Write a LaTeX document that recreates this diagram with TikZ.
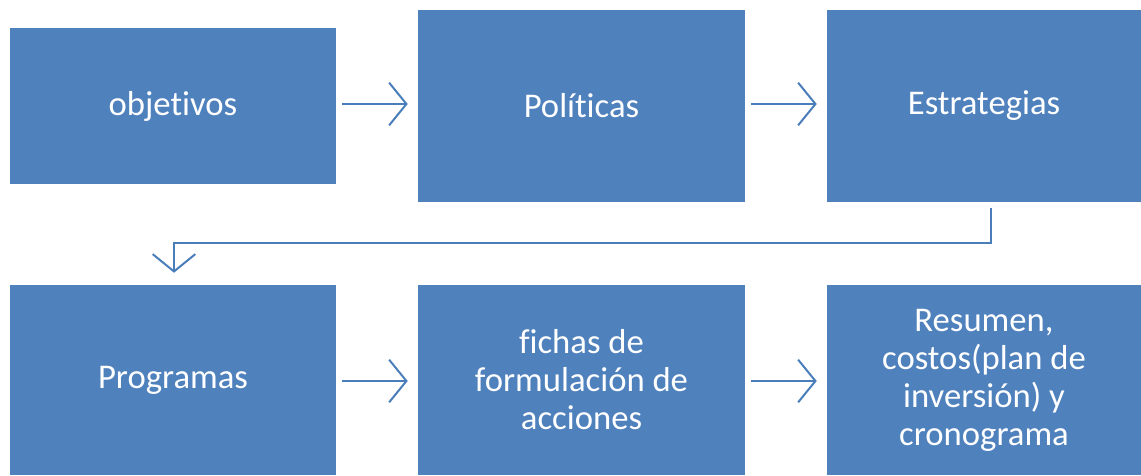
\documentclass[tikz,border=0pt]{standalone}
\usepackage{fontspec}
\setmainfont{Carlito}[Ligatures={NoCommon,NoContextual},RawFeature={-liga;-clig;-calt;-rlig;-dlig}]
\usetikzlibrary{arrows.meta}
\definecolor{cus-blue}{RGB}{79, 129, 189}
\definecolor{cus-line}{RGB}{74, 126, 187}
\newdimen\px
\px=0.75pt
\tikzset{
	box/.style={fill=cus-blue,text=white,align=center,inner sep=0pt,
		font=\fontsize{26}{28.5}\selectfont},
	arr/.style={draw=cus-line,line width=1.5pt,
		-{Straight Barb[length=13pt,width=32pt,line width=1.5pt]}}
}
\begin{document}
\begin{tikzpicture}[x=0.75pt,y=-0.75pt]
\useasboundingbox (0,0) rectangle (1141,475);
% top row
\node [box,minimum width=326\px,minimum height=156\px] (obj) at (173,106) {objetivos};
\node [box,minimum width=327\px,minimum height=192\px] (pol) at (581.5,106) {Políticas};
\node [box,minimum width=314\px,minimum height=192\px] (est) at (984,106) {Estrategias};
% bottom row
\node [box,minimum width=326\px,minimum height=190\px] (prog) at (173,380) {Programas};
\node [box,minimum width=327\px,minimum height=190\px] (fich) at (581.5,380) {fichas de\\formulación de\\acciones};
\node [box,minimum width=314\px,minimum height=190\px] (res) at (984,380) {Resumen,\\costos(plan de\\inversión) y\\cronograma};
% connectors
\foreach \a/\b/\s in {obj/pol/2,pol/est/2,prog/fich/-1,fich/res/-1}{
	\draw [arr,shorten <=6\px,shorten >=10\px] ([yshift=\s\px]\a.east) -- ([yshift=\s\px]\b.west);
}
\draw [arr,shorten <=6\px,shorten >=12\px] ([xshift=7\px]est.south) -- ++(0,41) -| ([xshift=1\px]prog.north);
\end{tikzpicture}
\end{document}
